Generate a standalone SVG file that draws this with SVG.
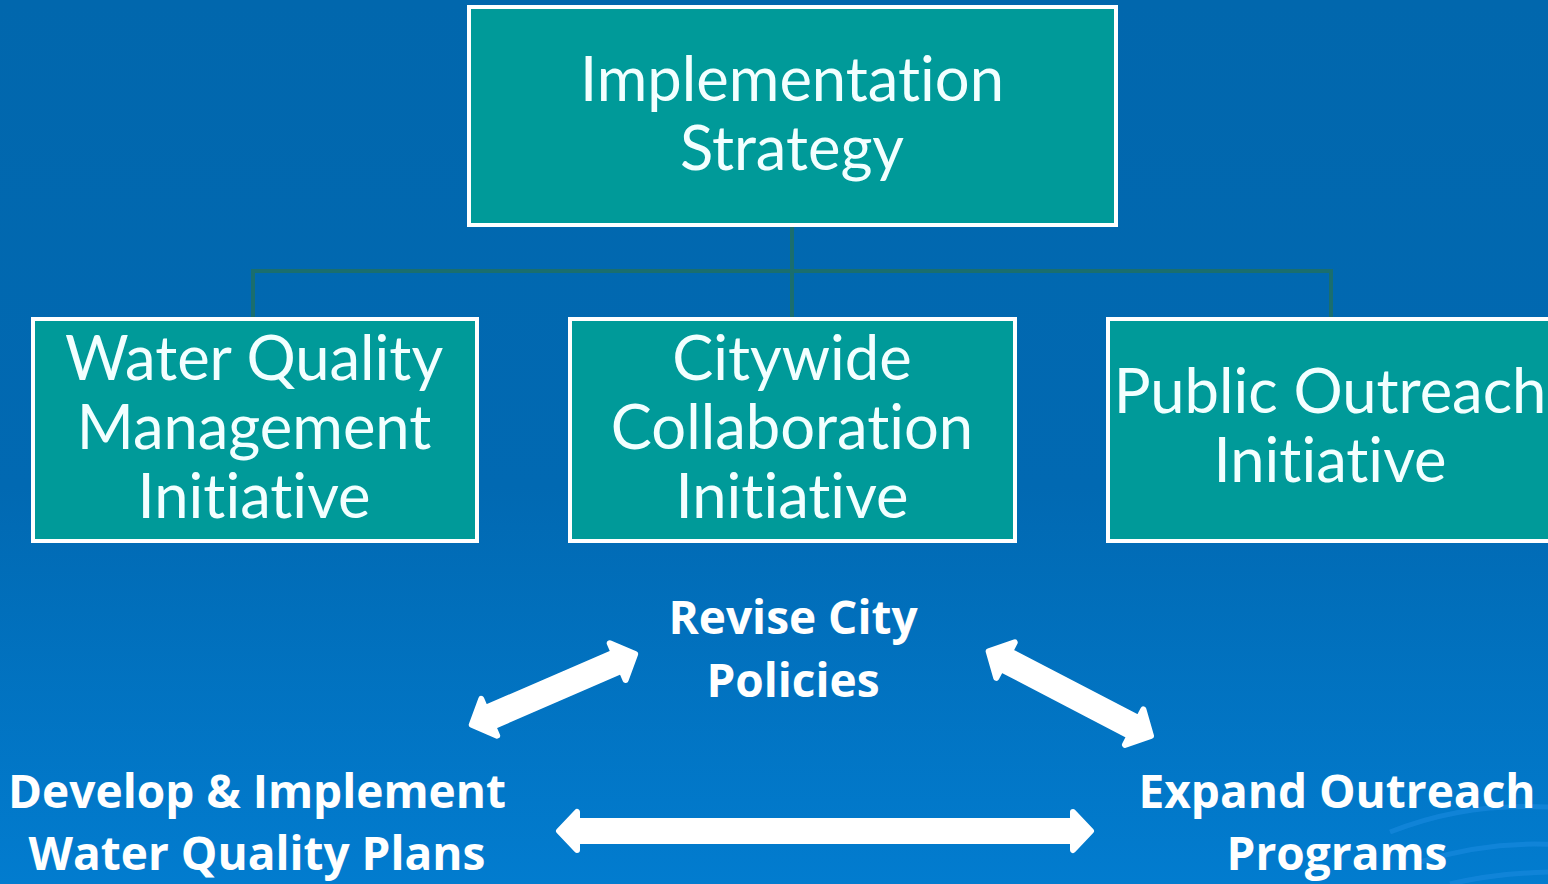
<svg xmlns="http://www.w3.org/2000/svg" width="1548" height="884" viewBox="0 0 1548 884">
<defs>
<linearGradient id="bg" x1="0" y1="0" x2="0" y2="1">
<stop offset="0" stop-color="#0167ad"/>
<stop offset="0.55" stop-color="#0169b2"/>
<stop offset="1" stop-color="#027ccf"/>
</linearGradient>
<style>
.box{fill:#009a99;stroke:#ffffff;stroke-width:4}
.bt{font-family:Lato,"Open Sans",sans-serif;font-size:61.5px;fill:#f2ffff;text-anchor:middle;font-variant-ligatures:none;font-feature-settings:"liga" 0}
.lb{font-family:"Open Sans",Lato,sans-serif;font-weight:bold;font-size:46px;fill:#ffffff;text-anchor:middle}
.con{stroke:#1a6e6e;stroke-width:4;fill:none}
.arr{fill:#ffffff;stroke:#ffffff;stroke-width:6;stroke-linejoin:round}
.wave{fill:none;stroke:#1a8ae0;stroke-width:5;opacity:0.6}
</style>
</defs>
<rect x="0" y="0" width="1548" height="884" fill="url(#bg)"/>
<g id="waves">
<path class="wave" d="M1390,832 Q1470,800 1560,808"/>
<path class="wave" d="M1420,862 Q1490,840 1560,845"/>
<path class="wave" d="M1450,884 Q1500,872 1560,872"/>
</g>
<g id="connectors">
<path class="con" d="M792,226 V318 M253,318 V271 H1331 V318"/>
</g>
<g id="n-top">
<rect class="box" x="469" y="7" width="647" height="218"/>
<text class="bt" x="792" y="101">Implementation</text>
<text class="bt" x="792" y="170">Strategy</text>
</g>
<g id="n-wq">
<rect class="box" x="33" y="319" width="444" height="222"/>
<text class="bt" x="254" y="380">Water Quality</text>
<text class="bt" x="254" y="449">Management</text>
<text class="bt" x="254" y="518">Initiative</text>
</g>
<g id="n-cw">
<rect class="box" x="570" y="319" width="445" height="222"/>
<text class="bt" x="792" y="380">Citywide</text>
<text class="bt" x="792" y="449">Collaboration</text>
<text class="bt" x="792" y="518">Initiative</text>
</g>
<g id="n-po">
<rect class="box" x="1108" y="319" width="450" height="222"/>
<text class="bt" x="1330" y="413">Public Outreach</text>
<text class="bt" x="1330" y="482">Initiative</text>
</g>
<g id="n-revise">
<text class="lb" x="793" y="634">Revise City</text>
<text class="lb" x="793" y="697">Policies</text>
</g>
<g id="n-develop">
<text class="lb" x="257" y="808">Develop &amp; Implement</text>
<text class="lb" x="257" y="870">Water Quality Plans</text>
</g>
<g id="n-expand">
<text class="lb" x="1337" y="808">Expand Outreach</text>
<text class="lb" x="1337" y="870">Programs</text>
</g>
<g id="arrows">
<g transform="translate(469,726) rotate(-23.4)">
<path class="arr" d="M3,0 L22,-20 L22,-10 L162,-10 L162,-20 L181,0 L162,20 L162,10 L22,10 L22,20 Z"/>
</g>
<g transform="translate(986,650) rotate(27.5)">
<path class="arr" d="M3,0 L22,-20 L22,-10 L167,-10 L167,-20 L186,0 L167,20 L167,10 L22,10 L22,20 Z"/>
</g>
<path class="arr" d="M559,831 L577,812 L577,821 L1073,821 L1073,812 L1091,831 L1073,850 L1073,841 L577,841 L577,850 Z"/>
</g>
</svg>
